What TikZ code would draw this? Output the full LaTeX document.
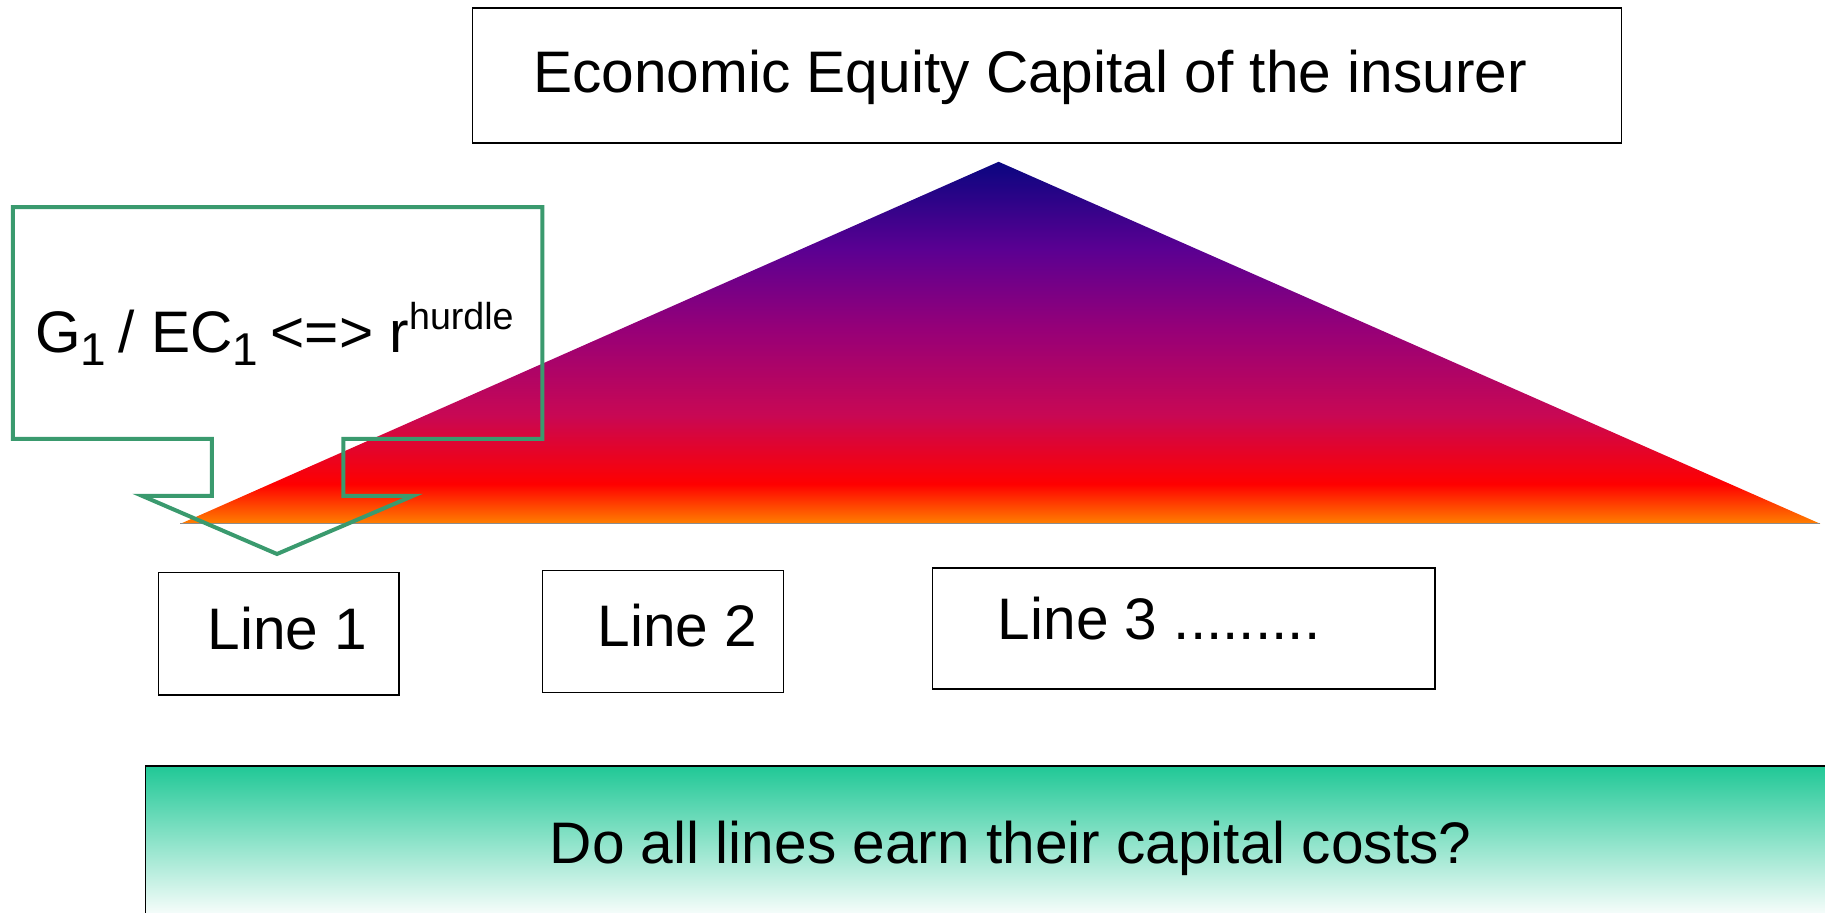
\documentclass[tikz,border=0pt]{standalone}
\usepackage{fontspec}
\setmainfont{Liberation Sans}
\definecolor{callgreen}{RGB}{58,154,110}
\definecolor{bargreen}{RGB}{32,200,150}
\definecolor{triA}{RGB}{10,6,128}
\definecolor{triB}{RGB}{90,0,146}
\definecolor{triC}{RGB}{150,0,120}
\definecolor{triD}{RGB}{200,8,84}
\definecolor{triE}{RGB}{255,0,0}
\definecolor{triF}{RGB}{255,128,0}
\pgfdeclareverticalshading{trishade}{100bp}{color(0bp)=(triF); color(25bp)=(triF); color(30.5bp)=(triE); color(40bp)=(triD); color(52bp)=(triC); color(63bp)=(triB); color(75bp)=(triA); color(100bp)=(triA)}
\newcommand{\mysub}[1]{\raisebox{-6.5pt}{\fontsize{23}{23}\selectfont #1}\kern-2pt\relax}
\newcommand{\mysup}[1]{\raisebox{11.5pt}{\fontsize{18.8}{18.8}\selectfont #1}}
\begin{document}
\begin{tikzpicture}[x=0.5pt,y=-0.5pt,
  box/.style={draw=black,line width=0.75pt,fill=white,inner sep=0pt},
  lbl/.style={inner sep=0pt,anchor=base west,font=\fontsize{29.3}{35}\selectfont},
  callout/.style={draw=callgreen,line width=2pt,line join=miter}]
\useasboundingbox (0,0) rectangle (1825,913);
% title box
\node[box,minimum width=574.4pt,minimum height=67.55pt] (title) at (1046.9,75.65) {};
\node[lbl] (titletext) at (533,93) {Economic Equity Capital of the insurer};
% triangle
\coordinate (apex) at (998.6,161.8);
\coordinate (tl) at (180.4,523.8);
\coordinate (tr) at (1820.3,523.8);
\shade[shading=trishade] (apex) -- (tr) -- (tl) -- cycle;
\draw[black!45,line width=0.3pt] (tl) -- (tr);
% line boxes
\node[box,minimum width=120.45pt,minimum height=61.15pt] (line1) at (278.75,633.75) {};
\node[lbl] (line1text) at (207.2,649.5) {Line 1};
\node[box,minimum width=120.45pt,minimum height=61.1pt] (line2) at (662.85,631.4) {};
\node[lbl] (line2text) at (597.1,647) {Line 2};
\node[box,minimum width=251.4pt,minimum height=60.5pt] (line3) at (1183.7,628.5) {};
\node[lbl] (line3text) at (997.5,640) {Line 3 .........};
% bottom bar
\node[draw=black,line width=0.75pt,top color=bargreen,bottom color=white,inner sep=0pt,
      minimum width=842.25pt,minimum height=77pt] (bar) at (987.75,843) {};
\node[lbl] (bartext) at (549.4,863.6) {Do all lines earn their capital costs?};
% callout
\draw[callout] (12.8,207.2) -- (542.4,207.2) -- (542.4,438.8) -- (343.4,438.8)
  -- (343.4,495.8) -- (413.2,495.8) -- (277,554) -- (142,495.8) -- (211.8,495.8)
  -- (211.8,438.8) -- (12.8,438.8) -- cycle;
\node[lbl] (ctext) at (35,353) {G\mysub{1} / EC\mysub{1} <=> r\mysup{hurdle}};
\end{tikzpicture}
\end{document}
